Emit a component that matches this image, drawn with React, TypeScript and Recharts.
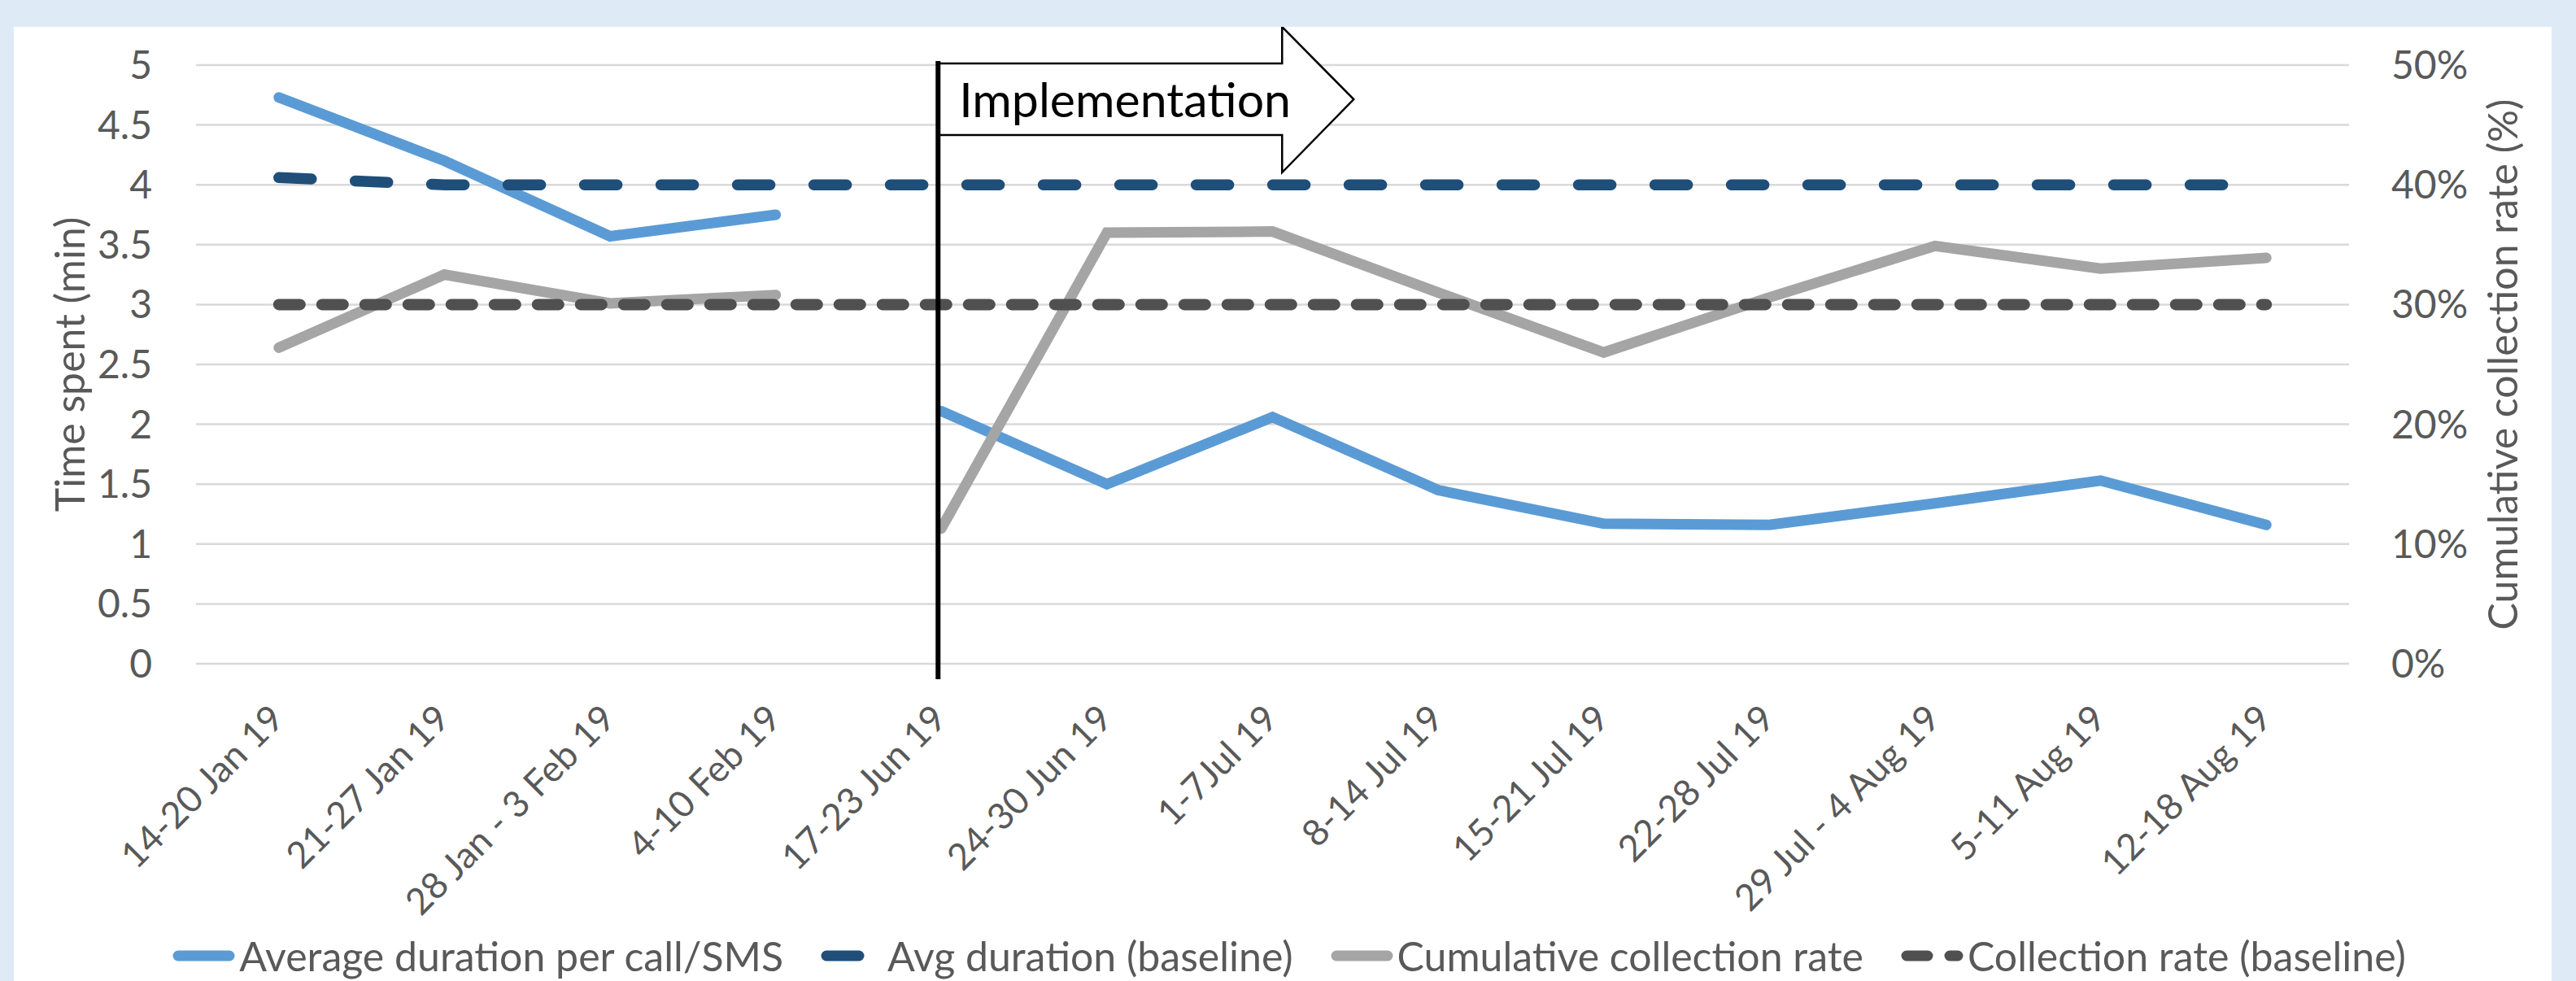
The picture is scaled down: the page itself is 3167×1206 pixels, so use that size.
import React from 'react';
import { LineChart, Line, XAxis, YAxis, CartesianGrid, Legend, ReferenceLine, Label } from 'recharts';

const categories = [
  '14-20 Jan 19', '21-27 Jan 19', '28 Jan - 3 Feb 19', '4-10 Feb 19', '17-23 Jun 19',
  '24-30 Jun 19', '1-7Jul 19', '8-14 Jul 19', '15-21 Jul 19', '22-28 Jul 19',
  '29 Jul - 4 Aug 19', '5-11 Aug 19', '12-18 Aug 19',
];

// Average duration per call/SMS (min), split into pre/post implementation segments
const avgDurationPre = [4.73, 4.2, 3.57, 3.75, null, null, null, null, null, null, null, null, null];
const avgDurationPost = [null, null, null, null, 2.11, 1.5, 2.06, 1.45, 1.17, 1.16, 1.34, 1.53, 1.16];
const avgDurationBaseline = [4.06, 4, 4, 4, 4, 4, 4, 4, 4, 4, 4, 4, 4];

// Cumulative collection rate (%), split into pre/post implementation segments
const collectionPre = [26.4, 32.5, 30.1, 30.8, null, null, null, null, null, null, null, null, null];
const collectionPost = [null, null, null, null, 11.3, 36.0, 36.1, 31.0, 26.0, 30.6, 34.9, 33.0, 33.9];
const collectionBaseline = [30, 30, 30, 30, 30, 30, 30, 30, 30, 30, 30, 30, 30];

const leftTicks = [0, 0.5, 1, 1.5, 2, 2.5, 3, 3.5, 4, 4.5, 5];
const rightTicks = [0, 10, 20, 30, 40, 50];

const implementationWeek = '17-23 Jun 19';

const seriesNames = [
  'Average duration per call/SMS',
  'Avg duration (baseline)',
  'Cumulative collection rate',
  'Collection rate (baseline)',
];

const data = categories.map((week, i) => ({
  week,
  avgPre: avgDurationPre[i],
  avgPost: avgDurationPost[i],
  avgBase: avgDurationBaseline[i],
  colPre: collectionPre[i],
  colPost: collectionPost[i],
  colBase: collectionBaseline[i],
}));

const FONT = 'Lato, "Open Sans", sans-serif';
const TEXT = '#595959';
const BLUE = '#5B9BD5';
const NAVY = '#1F4E79';
const GREY = '#A5A5A5';
const DARK = '#505050';
const NAVY_DASH = '40 54';
const DARK_DASH = '26 27';
const TICK_SIZE = 48;
const XTICK_SIZE = 45;
const TITLE_SIZE = 50;

const XTick = (props: any) => {
  const { x, y, payload } = props;
  const tx = x + 9;
  const ty = y + 62;
  return (
    <text
      x={tx}
      y={ty}
      transform={`rotate(-45, ${tx}, ${ty})`}
      textAnchor="end"
      fill={TEXT}
      fontSize={XTICK_SIZE}
      fontFamily={FONT}
    >
      {payload.value}
    </text>
  );
};

const LeftTitle = (props: any) => {
  const vb = props.viewBox || {};
  const cx = vb.x + 68;
  const cy = vb.y + vb.height / 2;
  return (
    <text
      x={cx}
      y={cy}
      transform={`rotate(-90, ${cx}, ${cy})`}
      textAnchor="middle"
      dominantBaseline="central"
      fill={TEXT}
      fontSize={TITLE_SIZE}
      fontFamily={FONT}
    >
      Time spent (min)
    </text>
  );
};

const RightTitle = (props: any) => {
  const vb = props.viewBox || {};
  const cx = vb.x + 188;
  const cy = vb.y + vb.height / 2;
  return (
    <text
      x={cx}
      y={cy}
      transform={`rotate(-90, ${cx}, ${cy})`}
      textAnchor="middle"
      dominantBaseline="central"
      fill={TEXT}
      fontSize={TITLE_SIZE}
      fontFamily={FONT}
    >
      Cumulative collection rate (%)
    </text>
  );
};

const ImplementationMarker = (props: any) => {
  const { x1, y1, y2 } = props;
  const top = Math.min(y1, y2);
  const bottom = Math.max(y1, y2);
  const x = x1 - 4;
  return (
    <g>
      <path
        d={`M${x},${top - 2} H${x + 423} V${top - 47} L${x + 511},${top + 42} L${x + 423},${top + 132} V${top + 86} H${x}`}
        fill="#ffffff"
        stroke="#000000"
        strokeWidth={2.5}
      />
      <text x={x + 26} y={top + 64} fontSize={59} fontFamily={FONT} fill="#000000">
        Implementation
      </text>
      <line x1={x} x2={x} y1={top - 5} y2={bottom + 19} stroke="#000000" strokeWidth={6} />
    </g>
  );
};

const legendStyles = [
  { color: BLUE, dash: undefined as string | undefined },
  { color: NAVY, dash: NAVY_DASH },
  { color: GREY, dash: undefined as string | undefined },
  { color: DARK, dash: DARK_DASH },
];

const LegendContent = () => (
  <div
    style={{
      display: 'flex',
      justifyContent: 'center',
      alignItems: 'center',
      height: 62,
      paddingLeft: 16,
      fontFamily: FONT,
      fontSize: 50,
      color: TEXT,
      whiteSpace: 'nowrap',
    }}
  >
    {seriesNames.map((name, i) => (
      <div key={name} style={{ display: 'flex', alignItems: 'center', marginLeft: i === 0 ? 0 : 46 }}>
        <svg width={77} height={20} style={{ display: 'block' }}>
          <line
            x1={7}
            x2={70}
            y1={10}
            y2={10}
            stroke={legendStyles[i].color}
            strokeWidth={13}
            strokeLinecap="round"
            strokeDasharray={legendStyles[i].dash}
          />
        </svg>
        <span style={{ marginLeft: 5 }}>{name}</span>
      </div>
    ))}
  </div>
);

export default function App() {
  return (
    <div
      style={{
        position: 'absolute',
        left: 0,
        top: 0,
        width: 3167,
        height: 1206,
        background: '#DEEBF7',
        overflow: 'hidden',
      }}
    >
      <div style={{ position: 'absolute', left: 17, top: 33, width: 3120, height: 1173, background: '#ffffff' }}>
        <LineChart
          width={3120}
          height={1173}
          data={data}
          margin={{ top: 47, right: 0, bottom: 0, left: 0 }}
          style={{ fontFamily: FONT }}
        >
          <CartesianGrid yAxisId="left" vertical={false} stroke="#D9D9D9" strokeWidth={2.5} />
          <XAxis
            dataKey="week"
            interval={0}
            tickLine={false}
            axisLine={false}
            height={328}
            padding={{ left: 101.8, right: 101.8 }}
            tick={<XTick />}
          />
          <YAxis
            yAxisId="left"
            orientation="left"
            width={224}
            domain={[0, 5]}
            ticks={leftTicks}
            interval={0}
            tickLine={false}
            axisLine={false}
            tickMargin={48}
            tick={{ fill: TEXT, fontSize: TICK_SIZE, fontFamily: FONT }}
          >
            <Label content={<LeftTitle />} />
          </YAxis>
          <YAxis
            yAxisId="right"
            orientation="right"
            width={249}
            domain={[0, 50]}
            ticks={rightTicks}
            interval={0}
            tickLine={false}
            axisLine={false}
            tickMargin={46}
            tickFormatter={(v: number) => `${v}%`}
            tick={{ fill: TEXT, fontSize: TICK_SIZE, fontFamily: FONT, textAnchor: 'start' }}
          >
            <Label content={<RightTitle />} />
          </YAxis>
          <Legend verticalAlign="bottom" content={<LegendContent />} />
          <Line
            yAxisId="left"
            dataKey="avgPre"
            name={seriesNames[0]}
            stroke={BLUE}
            strokeWidth={13}
            strokeLinecap="round"
            dot={false}
            activeDot={false}
            isAnimationActive={false}
          />
          <Line
            yAxisId="left"
            dataKey="avgPost"
            name={seriesNames[0]}
            legendType="none"
            stroke={BLUE}
            strokeWidth={13}
            strokeLinecap="round"
            dot={false}
            activeDot={false}
            isAnimationActive={false}
          />
          <Line
            yAxisId="left"
            dataKey="avgBase"
            name={seriesNames[1]}
            stroke={NAVY}
            strokeWidth={13.5}
            strokeDasharray={NAVY_DASH}
            strokeLinecap="round"
            dot={false}
            activeDot={false}
            isAnimationActive={false}
          />
          <Line
            yAxisId="right"
            dataKey="colPre"
            name={seriesNames[2]}
            stroke={GREY}
            strokeWidth={13}
            strokeLinecap="round"
            dot={false}
            activeDot={false}
            isAnimationActive={false}
          />
          <Line
            yAxisId="right"
            dataKey="colPost"
            name={seriesNames[2]}
            legendType="none"
            stroke={GREY}
            strokeWidth={13}
            strokeLinecap="round"
            dot={false}
            activeDot={false}
            isAnimationActive={false}
          />
          <Line
            yAxisId="right"
            dataKey="colBase"
            name={seriesNames[3]}
            stroke={DARK}
            strokeWidth={14}
            strokeDasharray={DARK_DASH}
            strokeLinecap="round"
            dot={false}
            activeDot={false}
            isAnimationActive={false}
          />
          <ReferenceLine
            yAxisId="left"
            x={implementationWeek}
            stroke="#000000"
            shape={<ImplementationMarker />}
          />
        </LineChart>
      </div>
    </div>
  );
}
